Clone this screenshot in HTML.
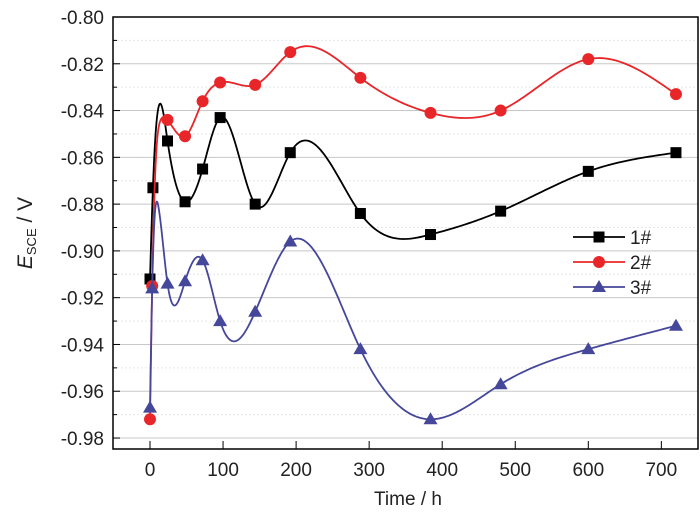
<!DOCTYPE html>
<html><head><meta charset="utf-8"><style>
body{margin:0;background:#fff}
svg{display:block;font-family:"Liberation Sans",sans-serif}
</style></head><body>
<svg id="s" width="700" height="515" xmlns="http://www.w3.org/2000/svg"></svg>
<script>
const s=document.getElementById('s');
const X=v=>150+v*0.7305, Y=v=>17+(-0.80-v)/0.02*46.78;
let h='';
for(let i=0;i<=18;i++){const v=-0.80-i*0.01,y=Y(v);
 if(i%2==0){ if(i>0) h+=`<line x1="113" x2="698" y1="${y}" y2="${y}" stroke="#c8c8c8" stroke-width="1"/>`;
  h+=`<text x="104" y="${y+7}" font-size="19" text-anchor="end" fill="#222">${v.toFixed(2)}</text>`;}
 else h+=`<line x1="113" x2="698" y1="${y}" y2="${y}" stroke="#e6e6e6" stroke-width="1" stroke-dasharray="2,2"/>`;
 h+=`<line x1="113" x2="${i%2?117:120}" y1="${y}" y2="${y}" stroke="#000"/>`;}
for(let t=0;t<=700;t+=100){const x=X(t);h+=`<line x1="${x}" x2="${x}" y1="449" y2="441" stroke="#000"/><text x="${x}" y="476" font-size="19" text-anchor="middle" fill="#222">${t}</text>`;}
h+=`<rect x="113" y="17" width="585" height="432" fill="none" stroke="#000" stroke-width="1.5"/>`;
h+=`<text x="408" y="505" font-size="19" text-anchor="middle" fill="#222">Time / h</text>`;
h+=`<text transform="translate(32,233) rotate(-90)" font-size="21" text-anchor="middle" fill="#222"><tspan font-style="italic">E</tspan><tspan font-size="13" dy="4">SCE</tspan><tspan dy="-4"> / V</tspan></text>`;
function spline(p){const n=p.length,xs=p.map(a=>a[0]),ys=p.map(a=>a[1]);
 const hh=[],al=[0],l=[1],mu=[0],z=[0],c=new Array(n).fill(0);
 for(let i=0;i<n-1;i++)hh.push(xs[i+1]-xs[i]);
 for(let i=1;i<n-1;i++)al[i]=3/hh[i]*(ys[i+1]-ys[i])-3/hh[i-1]*(ys[i]-ys[i-1]);
 for(let i=1;i<n-1;i++){l[i]=2*(xs[i+1]-xs[i-1])-hh[i-1]*mu[i-1];mu[i]=hh[i]/l[i];z[i]=(al[i]-hh[i-1]*z[i-1])/l[i];}
 const b=[],d=[];
 for(let j=n-2;j>=0;j--){c[j]=z[j]-mu[j]*c[j+1];b[j]=(ys[j+1]-ys[j])/hh[j]-hh[j]*(c[j+1]+2*c[j])/3;d[j]=(c[j+1]-c[j])/(3*hh[j]);}
 let d0=`M${X(xs[0])},${Y(ys[0])}`;
 for(let j=0;j<n-1;j++)for(let k=1;k<=30;k++){const t=hh[j]*k/30;const y=ys[j]+b[j]*t+c[j]*t*t+d[j]*t*t*t;d0+=`L${X(xs[j]+t).toFixed(2)},${Y(y).toFixed(2)}`;}
 return d0;}
const S=[
 {c:"#000",m:"sq",p:[[0,-0.912],[4,-0.873],[24,-0.853],[48,-0.879],[72,-0.865],[96,-0.843],[144,-0.880],[192,-0.858],[288,-0.884],[384,-0.893],[480,-0.883],[600,-0.866],[720,-0.858]]},
 {c:"#e8262a",m:"ci",p:[[0,-0.972],[3,-0.915],[14,-0.8445,1],[24,-0.844],[48,-0.851],[72,-0.836],[96,-0.828],[144,-0.829],[192,-0.815],[288,-0.826],[384,-0.841],[480,-0.840],[600,-0.818],[720,-0.833]]},
 {c:"#45479a",m:"tr",p:[[0,-0.967],[3,-0.916],[12,-0.882,1],[24,-0.914],[48,-0.913],[72,-0.904],[96,-0.930],[144,-0.926],[192,-0.896],[288,-0.942],[384,-0.972],[480,-0.957],[600,-0.942],[720,-0.932]]}];
function mk(m,x,y,c){if(m=="sq")return `<rect x="${x-5.5}" y="${y-5.5}" width="11" height="11" fill="${c}"/>`;
 if(m=="ci")return `<circle cx="${x}" cy="${y}" r="6" fill="${c}"/>`;
 return `<polygon points="${x},${y-7} ${x-7},${y+5} ${x+7},${y+5}" fill="${c}"/>`;}
S.forEach((o,i)=>{h+=`<path d="${spline(o.p)}" fill="none" stroke="${o.c}" stroke-width="1.8"/>`;
 o.p.forEach(a=>{if(!a[2])h+=mk(o.m,X(a[0]),Y(a[1]),o.c)});
 const ly=237+25*i;h+=`<line x1="573" x2="625" y1="${ly}" y2="${ly}" stroke="${o.c}" stroke-width="1.8"/>`+mk(o.m,599,ly,o.c)+`<text x="630" y="${ly+7}" font-size="19" fill="#222">${i+1}#</text>`;});
s.innerHTML=h;
</script>
</body></html>
